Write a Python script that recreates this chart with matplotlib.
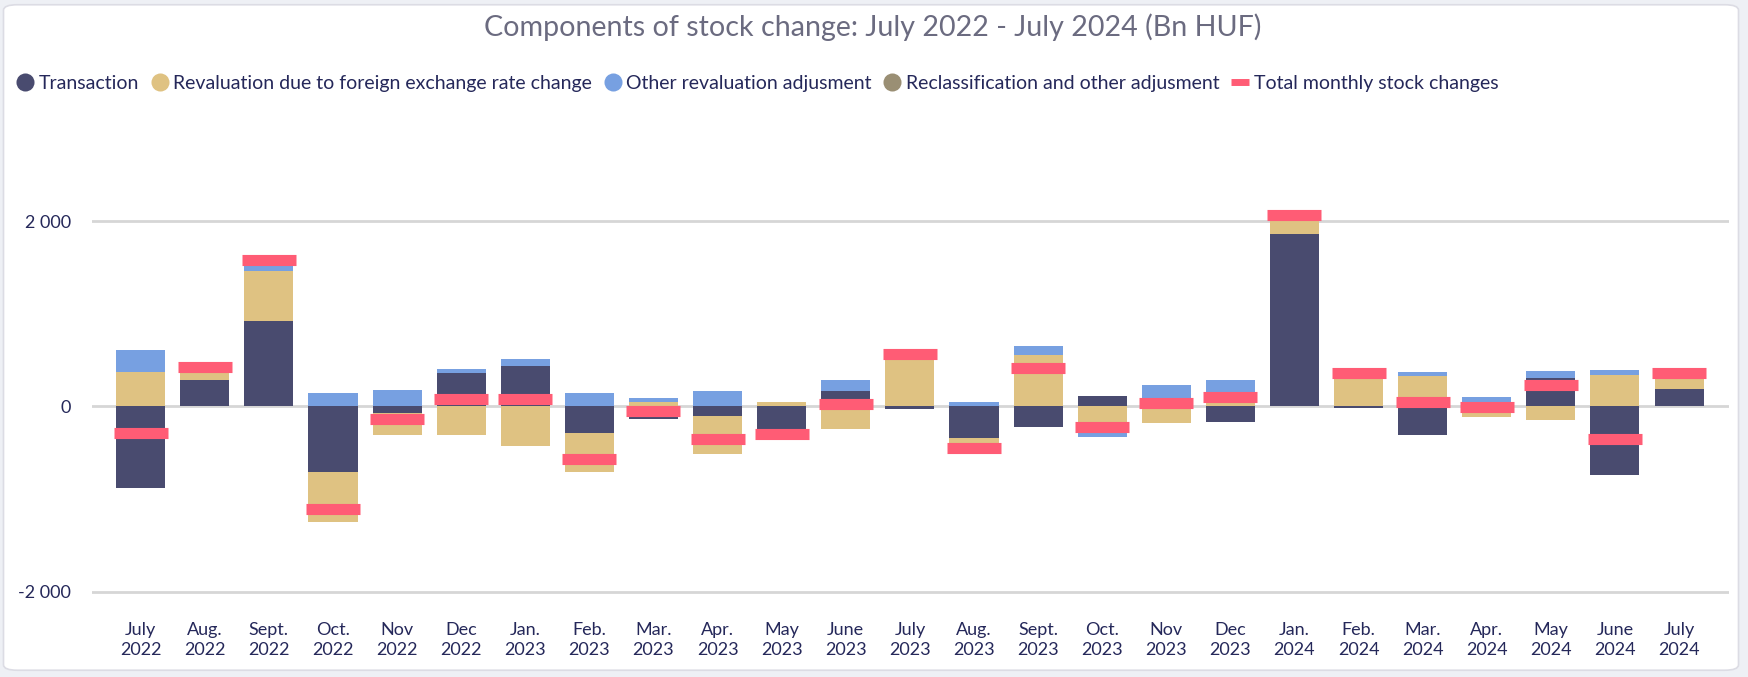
import matplotlib
matplotlib.use("Agg")
import matplotlib.pyplot as plt
import numpy as np
from matplotlib.lines import Line2D
from matplotlib.patches import FancyBboxPatch

# Bn HUF
months = [
    "July\n2022", "Aug.\n2022", "Sept.\n2022", "Oct.\n2022", "Nov\n2022", "Dec\n2022",
    "Jan.\n2023", "Feb.\n2023", "Mar.\n2023", "Apr.\n2023", "May\n2023", "June\n2023",
    "July\n2023", "Aug.\n2023", "Sept.\n2023", "Oct.\n2023", "Nov\n2023", "Dec\n2023",
    "Jan.\n2024", "Feb.\n2024", "Mar.\n2024", "Apr.\n2024", "May\n2024", "June\n2024",
    "July\n2024",
]
transaction = [-880, 285, 924, -711, -76, 361, 437, -289, -137, -105, -245, 166,
               -29, -343, -224, 112, 90, -170, 1866, -18, -310, -15, 303, -740, 188]
fx_revaluation = [372, 87, 542, -538, -234, -310, -430, -422, 47, -411, 47, -245,
                  545, -47, 556, -170, -181, 47, 145, 330, 329, -94, -148, 339, 150]
other_revaluation = [238, 0, 65, 144, 177, 43, 76, 144, 43, 166, 0, 119,
                     0, 47, 97, -162, 141, 238, 10, 0, 43, 101, 80, 54, 0]
reclassification = [0] * 25
total_change = [-285, 430, 1585, -1112, -137, 83, 76, -567, -51, -354, -303, 25,
                567, -444, 419, -227, 32, 105, 2070, 357, 47, -4, 235, -354, 357]

series = [
    ("Transaction", transaction, "#494b6f"),
    ("Revaluation due to foreign exchange rate change", fx_revaluation, "#dfc282"),
    ("Other revaluation adjusment", other_revaluation, "#77a0e1"),
    ("Reclassification and other adjusment", reclassification, "#9a8f74"),
]
TOTAL_COLOR = "#ff5c75"
TEXT_COLOR = "#25285a"
FONT = "Lato"

plt.rcParams["font.family"] = [FONT, "DejaVu Sans"]

fig = plt.figure(figsize=(17.49, 6.77), dpi=100, facecolor="#eef0f5")
panel = FancyBboxPatch((0.002, 0.01), 0.992, 0.983, boxstyle="round,pad=0,rounding_size=0.008",
                       transform=fig.transFigure, facecolor="white", edgecolor="#dcdce4",
                       linewidth=1.2, zorder=-10)
fig.patches.append(panel)

ax = fig.add_axes([0.0526, 0.1219, 0.936, 0.6883])
ax.set_facecolor("none")
ax.set_zorder(2)

x = np.arange(len(months))
pos_base = np.zeros(len(months))
neg_base = np.zeros(len(months))
for name, values, color in series:
    v = np.array(values, dtype=float)
    bottom = np.where(v >= 0, pos_base, neg_base)
    ax.bar(x, v, bottom=bottom, width=0.765, color=color, linewidth=0, zorder=2)
    pos_base += np.where(v > 0, v, 0)
    neg_base += np.where(v < 0, v, 0)

ax.plot(x, total_change, linestyle="none", marker="_", markersize=39,
        markeredgewidth=8, color=TOTAL_COLOR, zorder=4)

ax.set_xlim(-0.76, 24.78)
ax.set_ylim(-2030, 3000)
ax.set_yticks([-2000, 0, 2000])
ax.set_yticklabels(["-2 000", "0", "2 000"])
ax.set_xticks(x)
ax.set_xticklabels(months, linespacing=1.3)
ax.tick_params(axis="both", length=0, colors=TEXT_COLOR, labelsize=13)
ax.tick_params(axis="x", pad=20)
ax.tick_params(axis="y", pad=15)
for spine in ax.spines.values():
    spine.set_visible(False)
ax.grid(axis="y", color="#d6d6d6", linewidth=2, zorder=1)
ax.set_axisbelow(True)

fig.text(0.499, 0.96, "Components of stock change: July 2022 - July 2024 (Bn HUF)",
         ha="center", va="center", fontsize=20.6, color="#6b6b80")

handles = [Line2D([], [], linestyle="none", marker="o", markersize=13,
                  markerfacecolor=c, markeredgewidth=0) for _, _, c in series]
handles.append(Line2D([], [], color=TOTAL_COLOR, linewidth=5, solid_capstyle="butt"))
labels = [s[0] for s in series] + ["Total monthly stock changes"]
fig.legend(handles, labels, loc="center left", bbox_to_anchor=(0.004, 0.877), ncol=5,
           frameon=False, fontsize=14, handlelength=0.9, handletextpad=0.25,
           columnspacing=0.6, labelcolor=TEXT_COLOR, borderpad=0)

fig.savefig("out.png", dpi=100, facecolor=fig.get_facecolor())
